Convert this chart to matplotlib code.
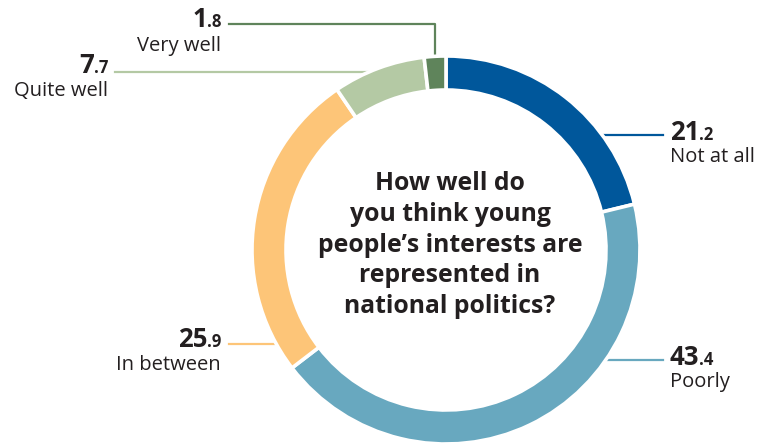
import matplotlib
matplotlib.use("Agg")
import matplotlib.pyplot as plt
import numpy as np

# Survey shares (%), clockwise from 12 o'clock
categories = ["Not at all", "Poorly", "In between", "Quite well", "Very well"]
values = [21.2, 43.4, 25.9, 7.7, 1.8]
colors = ["#00579b", "#68a8bf", "#fdc578", "#b4c9a4", "#5f845b"]
question = "How well do\nyou think young\npeople\u2019s interests are\nrepresented in\nnational politics?"

W, H = 758, 447
fig = plt.figure(figsize=(W / 100, H / 100), dpi=100)
ax = fig.add_axes([0, 0, 1, 1])

cx, cy = 446, H - 250
R = 194
ring = 34

ax.pie(values, colors=colors, startangle=90, counterclock=False,
       center=(cx, cy), radius=R, frame=True,
       wedgeprops=dict(width=ring, edgecolor="white", linewidth=2.6))
ax.set_xlim(0, W)
ax.set_ylim(0, H)
ax.set_aspect("equal")
ax.axis("off")

FONT = "Open Sans"
TXT = "#231f20"
renderer = fig.canvas.get_renderer()
BIG, SMALL, NAME = 18.5, 12, 14.5


def value_label(x, y, val, side):
    whole, frac = f"{val:.1f}".split(".")
    if side == "left":
        t1 = ax.text(x, y, whole, fontsize=BIG, fontweight="bold", family=FONT,
                     color=TXT, ha="left", va="baseline")
        bb = t1.get_window_extent(renderer)
        x2 = ax.transData.inverted().transform((bb.x1, bb.y0))[0]
        ax.text(x2 - 0.5, y, "." + frac, fontsize=SMALL, fontweight="bold",
                family=FONT, color=TXT, ha="left", va="baseline")
    else:
        t2 = ax.text(x, y, "." + frac, fontsize=SMALL, fontweight="bold",
                     family=FONT, color=TXT, ha="right", va="baseline")
        bb = t2.get_window_extent(renderer)
        x1 = ax.transData.inverted().transform((bb.x0, bb.y0))[0]
        ax.text(x1 + 0.5, y, whole, fontsize=BIG, fontweight="bold", family=FONT,
                color=TXT, ha="right", va="baseline")


def name_label(x, y, name, side):
    ax.text(x, y, name, fontsize=NAME, family=FONT, color=TXT,
            ha="left" if side == "left" else "right", va="baseline")


def ring_x(ypix, sign):
    dy = (H - ypix) - cy
    return cx + sign * np.sqrt(max(R ** 2 - dy ** 2, 0.0)) - sign * 10


lw = 1.6
# Not at all
y = 135
ax.plot([ring_x(y, 1), 663], [H - y, H - y], color=colors[0], lw=lw, zorder=0)
value_label(670, H - 140, values[0], "left")
name_label(670, H - 162, categories[0], "left")
# Poorly
y = 360
ax.plot([ring_x(y, 1), 663], [H - y, H - y], color=colors[1], lw=lw, zorder=0)
value_label(670, H - 365, values[1], "left")
name_label(670, H - 387, categories[1], "left")
# In between
y = 344
ax.plot([229, ring_x(y, -1)], [H - y, H - y], color=colors[2], lw=lw, zorder=0)
value_label(221, H - 347, values[2], "right")
name_label(221, H - 370, categories[2], "right")
# Quite well
y = 72
ax.plot([115, ring_x(y, -1)], [H - y, H - y], color=colors[3], lw=lw, zorder=0)
value_label(108, H - 73, values[3], "right")
name_label(108, H - 96, categories[3], "right")
# Very well: vertical from the wedge's middle, then across
mid = 90 - (sum(values[:4]) + values[4] / 2) * 3.6
vx = cx + R * np.cos(np.radians(mid))
y = 24
ax.plot([229, vx, vx], [H - y, H - y, cy + R - 8], color=colors[4], lw=lw, zorder=0)
value_label(221, H - 27, values[4], "right")
name_label(221, H - 51, categories[4], "right")

ax.text(450, H - 245, question, fontsize=17.8, fontweight="bold", family=FONT,
        color=TXT, ha="center", va="center", linespacing=1.29)

fig.savefig("out.png", dpi=100, facecolor="white")
